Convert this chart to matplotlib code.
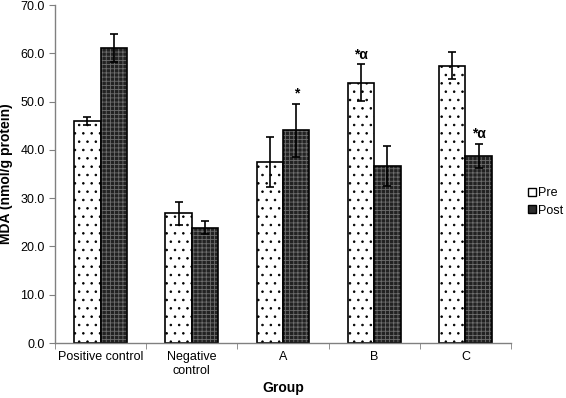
import matplotlib
matplotlib.use("Agg")
import matplotlib.pyplot as plt
import numpy as np
from matplotlib.patches import Patch

plt.rcParams['font.family'] = ['Liberation Sans', 'DejaVu Sans']
plt.rcParams['hatch.linewidth'] = 0.6

# Данные
groups = ['Positive control', 'Negative\ncontrol', 'A', 'B', 'C']
pre_vals = [46.0, 26.9, 37.5, 53.9, 57.4]
pre_err = [0.75, 2.4, 5.2, 3.8, 2.8]
post_vals = [61.1, 23.9, 44.1, 36.7, 38.8]
post_err = [2.9, 1.4, 5.5, 4.2, 2.5]
# пометки значимости: (группа, серия, текст)
marks = [(2, 'post', '*'), (3, 'pre', '*α'), (4, 'post', '*α')]

fig = plt.figure(figsize=(5.66, 3.98), dpi=100)
ax = fig.add_axes([55 / 566, 55 / 398, 456 / 566, 338 / 398])

x = np.arange(len(groups))
w = 0.29

# Pre: белые столбцы с точками
ax.bar(x - w / 2, pre_vals, w, color='white', edgecolor='black', hatch='..', linewidth=0)
ax.bar(x - w / 2, pre_vals, w, fill=False, edgecolor='black', linewidth=1.2)
ax.errorbar(x - w / 2, pre_vals, yerr=pre_err, fmt='none', ecolor='black',
            elinewidth=1.2, capsize=3, capthick=1.2)

# Post: тёмные столбцы с мелкой сеткой
ax.bar(x + w / 2, post_vals, w, color='#222222', edgecolor='#6e6e6e', hatch='++++', linewidth=0)
ax.bar(x + w / 2, post_vals, w, fill=False, edgecolor='black', linewidth=1.2)
ax.errorbar(x + w / 2, post_vals, yerr=post_err, fmt='none', ecolor='black',
            elinewidth=1.2, capsize=3, capthick=1.2)

for gi, series, txt in marks:
    if series == 'pre':
        xp, top = gi - w / 2, pre_vals[gi] + pre_err[gi]
    else:
        xp, top = gi + w / 2, post_vals[gi] + post_err[gi]
    ax.text(xp, top + 1.2, txt, ha='center', va='baseline', fontsize=10, fontweight='bold')

ax.set_xlim(-0.5, len(groups) - 0.5)
ax.set_ylim(0, 70)
ax.set_yticks(np.arange(0, 71, 10))
ax.set_yticklabels([f'{v:.1f}' for v in np.arange(0, 71, 10)], fontsize=9)
ax.set_xticks(x)
ax.set_xticklabels(groups, fontsize=9)
ax.set_xticks(np.arange(-0.5, len(groups), 1), minor=True)
ax.tick_params(axis='x', which='major', length=0, pad=6)
ax.tick_params(axis='x', which='minor', length=4, color='#808080', direction='out')
ax.tick_params(axis='y', length=4, color='#808080', direction='out')

for s in ['top', 'right']:
    ax.spines[s].set_visible(False)
for s in ['left', 'bottom']:
    ax.spines[s].set_color('#808080')
    ax.spines[s].set_linewidth(1.0)

ax.set_ylabel('MDA (nmol/g protein)', fontsize=10, fontweight='bold', labelpad=5)
ax.set_xlabel('Group', fontsize=10, fontweight='bold', labelpad=3)

handles = [Patch(facecolor='white', edgecolor='black', linewidth=1.0),
           Patch(facecolor='#2e2e2e', edgecolor='black', linewidth=1.0)]
fig.legend(handles, ['Pre', 'Post'], loc='center left', bbox_to_anchor=(528 / 566, 1 - 202 / 398),
           frameon=False, fontsize=9, handlelength=0.6, handleheight=0.6,
           handletextpad=0.2, labelspacing=0.45, borderaxespad=0, borderpad=0)

plt.savefig('out.png', dpi=100)
